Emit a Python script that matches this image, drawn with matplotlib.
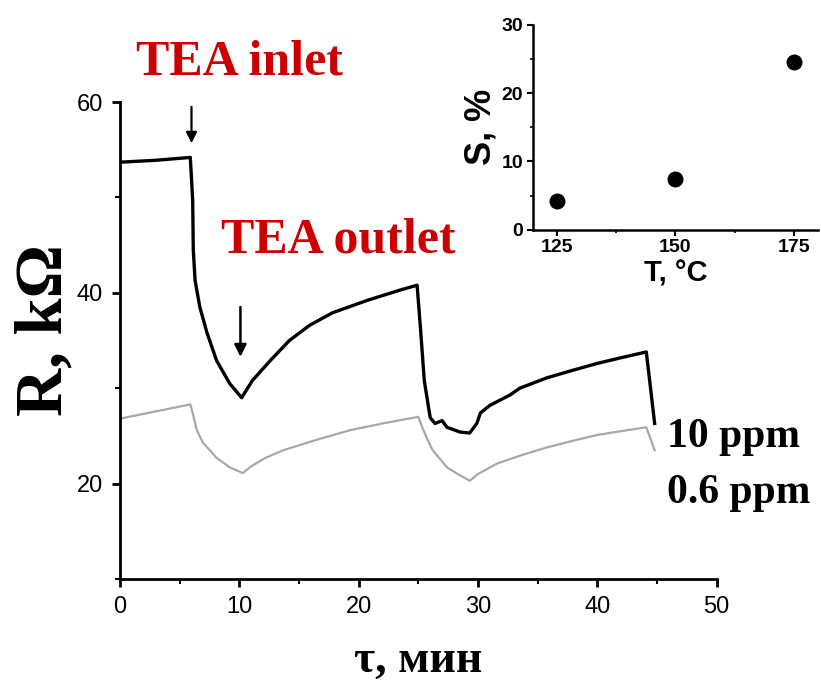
import matplotlib
matplotlib.use("Agg")
import matplotlib.pyplot as plt
from matplotlib.ticker import MultipleLocator

# ------------------------------------------------------------
# Data
# ------------------------------------------------------------
t_10ppm = [0, 3, 5.9, 6.1, 6.15, 6.3, 6.7, 7.3, 8.1, 9.2, 10.2, 10.6, 11.1,
           12.6, 14.2, 15.9, 17.8, 20.7, 23.5, 24.9, 25.2, 25.5, 26.0, 26.4,
           27.0, 27.4, 28.5, 29.3, 29.9, 30.2, 31.0, 32.7, 33.5, 35.8, 38.0,
           40.0, 42.0, 44.1, 44.8]
r_10ppm = [53.7, 53.9, 54.2, 49.7, 44.5, 41.3, 38.5, 35.8, 32.9, 30.5, 29.0,
           29.8, 30.8, 32.9, 35.0, 36.6, 37.9, 39.2, 40.3, 40.8, 36.0, 30.8,
           26.9, 26.3, 26.6, 25.9, 25.4, 25.3, 26.3, 27.4, 28.2, 29.3, 30.0,
           31.1, 31.9, 32.6, 33.2, 33.8, 26.3]

t_06ppm = [0, 5.9, 6.1, 6.45, 6.95, 8.1, 9.2, 10.3, 11.0, 12.2, 13.7, 16.5,
           19.3, 22.0, 25.0, 25.3, 25.7, 26.2, 26.8, 27.4, 28.3, 29.3, 30.0,
           31.6, 33.7, 35.8, 38.0, 40.0, 42.0, 44.1, 44.8]
r_06ppm = [26.8, 28.3, 27.4, 25.6, 24.3, 22.7, 21.7, 21.1, 21.8, 22.7, 23.5,
           24.6, 25.6, 26.3, 27.0, 26.0, 24.8, 23.5, 22.6, 21.7, 21.0, 20.3,
           21.0, 22.1, 23.0, 23.8, 24.5, 25.1, 25.5, 25.9, 23.5]

inset_T = [125, 150, 175]
inset_S = [4.2, 7.4, 24.5]

x_ticks = [0, 10, 20, 30, 40, 50]
y_ticks = [20, 40, 60]
inset_x_ticks = [125, 150, 175]
inset_y_ticks = [0, 10, 20, 30]

SERIF = ["Liberation Serif", "DejaVu Serif"]
SANS = ["Liberation Sans", "DejaVu Sans"]

# ------------------------------------------------------------
# Main axes: resistance transients
# ------------------------------------------------------------
fig = plt.figure(figsize=(8.21, 6.90), dpi=100)
ax = fig.add_axes([0.146, 0.161, 0.727, 0.691])

ax.plot(t_06ppm, r_06ppm, color="#a8a8a8", lw=1.6)
ax.plot(t_10ppm, r_10ppm, color="black", lw=2.4)

ax.set_xlim(0, 50)
ax.set_ylim(10, 60)
ax.set_xticks(x_ticks)
ax.set_yticks(y_ticks)
ax.xaxis.set_minor_locator(MultipleLocator(5))
ax.yaxis.set_minor_locator(MultipleLocator(10))
for s in ["top", "right"]:
    ax.spines[s].set_visible(False)
for s in ["left", "bottom"]:
    ax.spines[s].set_linewidth(2.0)
ax.tick_params(which="major", direction="out", length=6, width=2, labelsize=17, pad=6)
ax.tick_params(which="minor", direction="out", length=3.5, width=1.5)
for lab in ax.get_xticklabels() + ax.get_yticklabels():
    lab.set_family(SANS)

ax.set_xlabel("τ, мин", fontsize=33, fontweight="bold", family=SERIF, labelpad=16)
ax.set_ylabel("R, kΩ", fontsize=48, fontweight="bold", family=SERIF)
ax.yaxis.set_label_coords(-0.074, 0.522)

# arrows
ax.annotate("", xy=(6.0, 55.4), xytext=(6.0, 59.8),
            arrowprops=dict(arrowstyle="-|>", color="black", lw=1.6, mutation_scale=16))
ax.annotate("", xy=(10.1, 33.0), xytext=(10.1, 38.8),
            arrowprops=dict(arrowstyle="-|>", color="black", lw=1.8, mutation_scale=18))

# annotations
fig.text(0.292, 0.910, "TEA inlet", color="#cc0000", fontsize=36, fontweight="bold",
         family=SERIF, ha="center", va="center")
fig.text(0.412, 0.652, "TEA outlet", color="#cc0000", fontsize=36, fontweight="bold",
         family=SERIF, ha="center", va="center")
fig.text(0.813, 0.367, "10 ppm", color="black", fontsize=30, fontweight="bold",
         family=SERIF, ha="left", va="center")
fig.text(0.813, 0.286, "0.6 ppm", color="black", fontsize=30, fontweight="bold",
         family=SERIF, ha="left", va="center")

# ------------------------------------------------------------
# Inset: sensitivity vs temperature
# ------------------------------------------------------------
axi = fig.add_axes([0.649, 0.667, 0.347, 0.297])
axi.scatter(inset_T, inset_S, s=110, color="black", zorder=3)
axi.set_xlim(120, 180)
axi.set_ylim(0, 30)
axi.set_xticks(inset_x_ticks)
axi.set_yticks(inset_y_ticks)
axi.xaxis.set_minor_locator(MultipleLocator(12.5))
axi.yaxis.set_minor_locator(MultipleLocator(5))
for s in ["top", "right"]:
    axi.spines[s].set_visible(False)
for s in ["left", "bottom"]:
    axi.spines[s].set_linewidth(1.8)
axi.tick_params(which="major", direction="out", length=4, width=1.5, labelsize=14, pad=3)
axi.tick_params(which="minor", direction="out", length=2.5, width=1.2)
for lab in axi.get_xticklabels() + axi.get_yticklabels():
    lab.set_family(SANS)
    lab.set_fontweight("bold")
axi.patch.set_alpha(0)

axi.set_xlabel("T, °C", fontsize=21, fontweight="bold", family=SANS, labelpad=2)
axi.set_ylabel("S, %", fontsize=26, fontweight="bold", family=SANS, labelpad=2)

fig.savefig("out.png", dpi=100)
